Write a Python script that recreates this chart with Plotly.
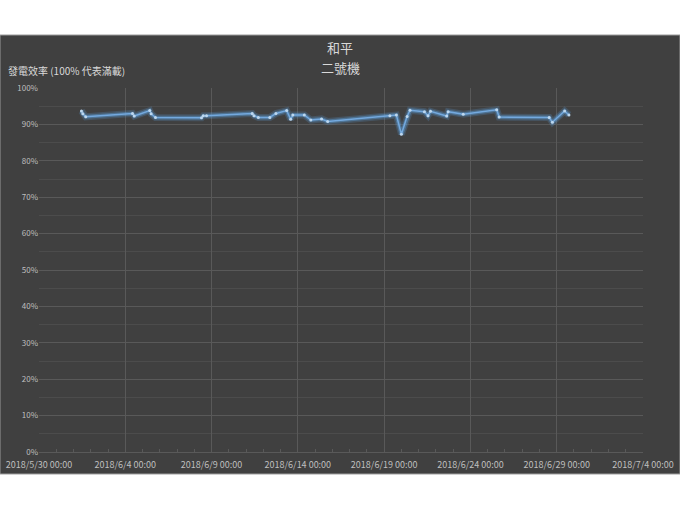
import plotly.graph_objects as go

times = [
    "2018-06-01 11:00", "2018-06-01 13:00", "2018-06-01 17:00",
    "2018-06-04 10:00", "2018-06-04 12:30",
    "2018-06-05 10:00", "2018-06-05 12:00", "2018-06-05 18:00",
    "2018-06-08 10:00", "2018-06-08 12:30", "2018-06-08 17:00",
    "2018-06-11 08:30", "2018-06-11 11:00", "2018-06-11 17:00",
    "2018-06-12 09:00", "2018-06-12 17:30",
    "2018-06-13 08:30", "2018-06-13 14:00", "2018-06-13 17:00",
    "2018-06-14 09:00", "2018-06-14 18:00",
    "2018-06-15 09:00", "2018-06-15 17:30",
    "2018-06-19 08:00", "2018-06-19 17:00",
    "2018-06-20 00:00", "2018-06-20 08:00", "2018-06-20 12:00",
    "2018-06-21 08:00", "2018-06-21 13:00", "2018-06-21 16:30",
    "2018-06-22 15:00", "2018-06-22 17:00",
    "2018-06-23 14:00",
    "2018-06-25 12:30", "2018-06-25 16:00",
    "2018-06-28 13:30", "2018-06-28 18:00",
    "2018-06-29 11:00", "2018-06-29 17:00",
]
efficiency = [
    93.7, 92.9, 92.1,
    93.0, 92.3,
    93.8, 92.9, 91.9,
    91.8, 92.4, 92.4,
    93.0, 92.4, 91.9,
    91.9, 93.0,
    93.8, 91.4, 92.6,
    92.6, 91.2,
    91.5, 90.8,
    92.4, 92.6,
    87.3, 92.2, 93.9,
    93.5, 92.4, 93.6,
    92.3, 93.5,
    92.8,
    94.0, 92.0,
    91.9, 90.6,
    93.7, 92.6,
]

title_lines = ["和平", "二號機"]
y_title = "發電效率 (100% 代表滿載)"

BG = "#404040"
GRID = "#595959"
TXT = "#bfbfbf"
CJK = "Noto Sans CJK TC"

fig = go.Figure()
# glow
fig.add_trace(go.Scatter(x=times, y=efficiency, mode="lines",
                         line=dict(color="rgba(91,155,213,0.22)", width=7),
                         hoverinfo="skip", showlegend=False))
fig.add_trace(go.Scatter(x=times, y=efficiency, mode="lines",
                         line=dict(color="rgba(91,155,213,0.45)", width=4),
                         hoverinfo="skip", showlegend=False))
fig.add_trace(go.Scatter(x=times, y=efficiency, mode="lines+markers",
                         line=dict(color="#74a9de", width=1.5),
                         marker=dict(color="#bdd7ee", size=3),
                         showlegend=False))

fig.update_layout(
    width=680, height=510,
    margin=dict(l=39, r=37, t=88, b=58, autoexpand=False),
    paper_bgcolor="white",
    plot_bgcolor=BG,
    font=dict(family=CJK, color=TXT, size=9),
    shapes=[dict(type="rect", xref="paper", yref="paper",
                 x0=-0.0646, x1=1.0613, y0=-0.0604, y1=1.1456,
                 fillcolor=BG, line=dict(color="#9a9a9a", width=1),
                 layer="below")],
    annotations=[
        dict(text=title_lines[0], xref="paper", yref="paper",
             x=(340 - 39) / 604, y=(452 - 48) / 364, xanchor="center", yanchor="middle",
             showarrow=False, font=dict(size=13, color="#d9d9d9", family=CJK)),
        dict(text=title_lines[1], xref="paper", yref="paper",
             x=(340 - 39) / 604, y=(452 - 68) / 364, xanchor="center", yanchor="middle",
             showarrow=False, font=dict(size=13, color="#d9d9d9", family=CJK)),
        dict(text=y_title, xref="paper", yref="paper",
             x=(6 - 39) / 604, y=(452 - 71) / 364, xanchor="left", yanchor="middle",
             showarrow=False, font=dict(size=10, color="#d9d9d9", family=CJK)),
    ],
)

fig.update_xaxes(
    type="date",
    range=["2018-05-30", "2018-07-04"],
    tick0="2018-05-30", dtick=5 * 86400000,
    tickformat="%Y/%-m/%-d %H:%M",
    showgrid=True, gridcolor=GRID, gridwidth=1,
    showline=True, linecolor=GRID, linewidth=1,
    ticks="", zeroline=False, automargin=False,
    ticklabelstandoff=4,
    minor=dict(dtick=86400000, ticks="inside", ticklen=3, tickcolor=GRID, showgrid=False),
    tickfont=dict(size=9, color=TXT),
)
fig.update_yaxes(
    range=[0, 100], dtick=10, ticksuffix="%",
    showgrid=True, gridcolor=GRID, gridwidth=1,
    minor=dict(dtick=5, showgrid=True, gridcolor="#4c4c4c"),
    showline=False, zeroline=False, automargin=False,
    tickfont=dict(size=8, color=TXT),
)

fig.write_html("out.html")
